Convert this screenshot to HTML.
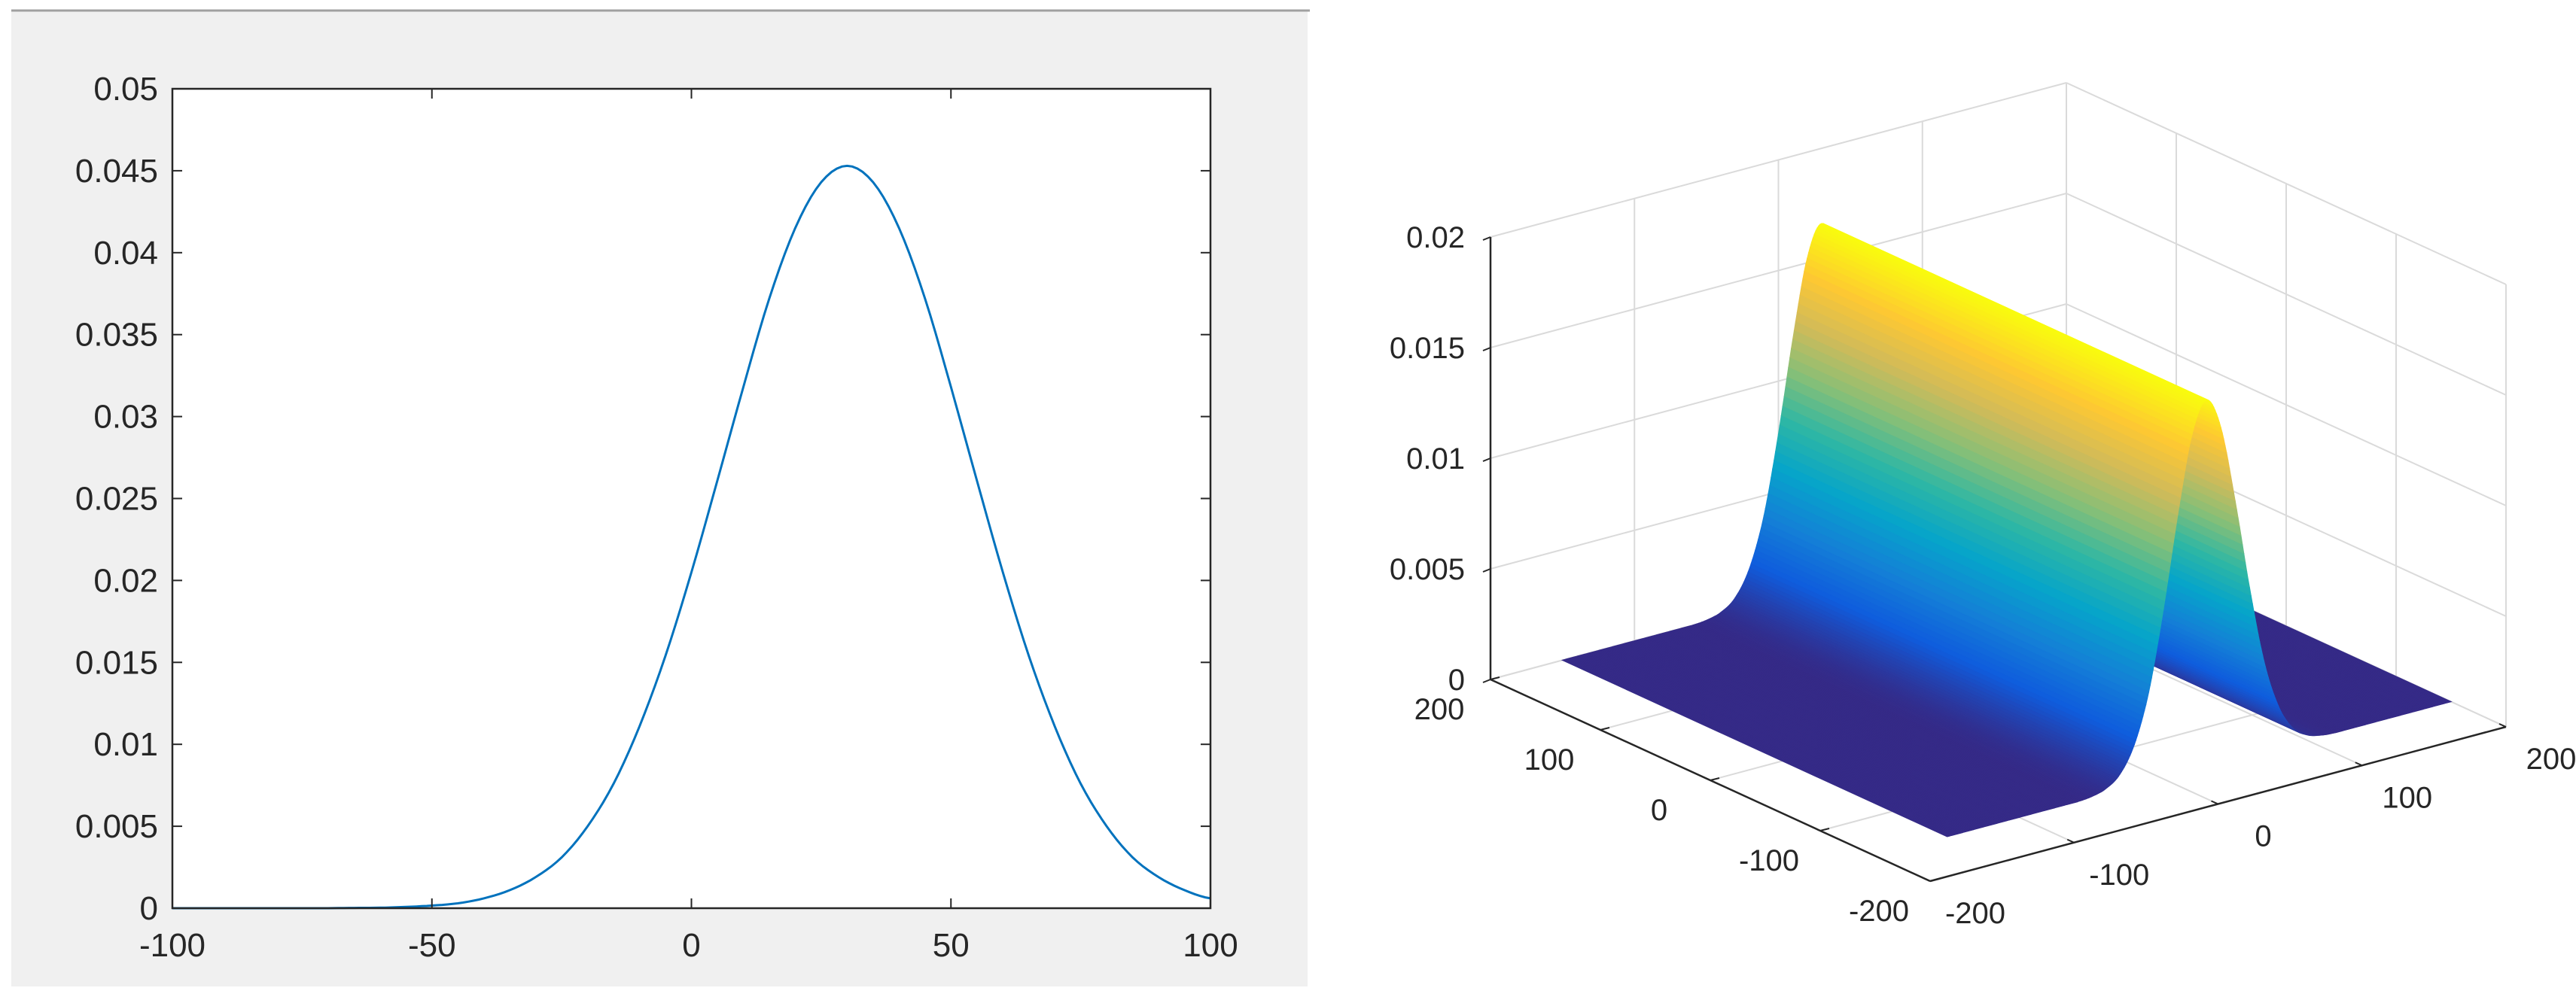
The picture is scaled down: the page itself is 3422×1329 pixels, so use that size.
<!DOCTYPE html>
<html><head><meta charset="utf-8">
<style>
html,body{margin:0;padding:0;background:#fff;}
svg{display:block;font-family:"Liberation Sans",sans-serif;}
</style></head>
<body>
<svg id="root" width="3422" height="1329" viewBox="0 0 3422 1329" xmlns="http://www.w3.org/2000/svg">
  <rect x="15" y="15" width="1722" height="1296" fill="#f0f0f0"/>
  <line x1="15" y1="14" x2="1740" y2="14" stroke="#a0a0a0" stroke-width="3"/>
  <g id="left"></g>
  <g id="right"></g>
</svg>
<script>
// ---------- Left chart data ----------
const lineX = [-100,-95,-90,-85,-80,-75,-70,-65,-60,-55,-50,-45,-40,-35,-30,-25,-20,-15,-10,-5,0,5,10,15,20,25,30,35,40,45,50,55,60,65,70,75,80,85,90,95,100];
const lineY = [0,0,0,0,0,0,0,0.00002,0.00003,0.00008,0.00016,0.0003,0.0006,0.0011,0.0019,0.0031,0.0050,0.0076,0.0111,0.0154,0.0205,0.0261,0.0318,0.0372,0.0415,0.0443,0.0453,0.0443,0.0415,0.0372,0.0318,0.0261,0.0205,0.0154,0.0111,0.0076,0.0050,0.0031,0.0019,0.0011,0.0006];
const lineXTicks = [-100,-50,0,50,100];
const lineYTicks = [0,0.005,0.01,0.015,0.02,0.025,0.03,0.035,0.04,0.045,0.05];
const lineYTickLabels = ["0","0.005","0.01","0.015","0.02","0.025","0.03","0.035","0.04","0.045","0.05"];

// ---------- Right chart data ----------
const ridgeX = [-150,-140,-130,-120,-110,-100,-90,-80,-70,-60,-50,-40,-30,-20,-10,0,10,20,30,40,50,60,70,80,90,100,110,120,130,140,150,160,170,180,190,200];
const ridgeZ = [0,0,0,0,0,0,0,0,0,0,0.00006,0.00024,0.00073,0.0019,0.0041,0.0076,0.0117,0.0152,0.0166,0.0152,0.0117,0.0076,0.0041,0.0019,0.00073,0.00024,0.00006,0,0,0,0,0,0,0,0,0];
const ridgeYRange = [-150,200];
const axisTicks3d = [-200,-100,0,100,200];
const zTicks = [0,0.005,0.01,0.015,0.02];
const zTickLabels = ["0","0.005","0.01","0.015","0.02"];

const NS="http://www.w3.org/2000/svg";
function mk(tag, attrs, parent){const e=document.createElementNS(NS,tag);for(const k in attrs)e.setAttribute(k,attrs[k]);parent.appendChild(e);return e;}
function catmull(xs, ys, step){
  const out=[];
  for(let i=0;i<xs.length-1;i++){
    const p0=ys[Math.max(0,i-1)],p1=ys[i],p2=ys[i+1],p3=ys[Math.min(ys.length-1,i+2)];
    const n=Math.max(1,Math.round((xs[i+1]-xs[i])/step));
    for(let k=0;k<n;k++){const t=k/n;
      const y=0.5*((2*p1)+(-p0+p2)*t+(2*p0-5*p1+4*p2-p3)*t*t+(-p0+3*p1-3*p2+p3)*t*t*t);
      out.push([xs[i]+(xs[i+1]-xs[i])*t, Math.max(0,y)]);}
  }
  out.push([xs[xs.length-1], ys[ys.length-1]]);
  return out;
}

// ---------- Left chart ----------
(function(){
  const g=document.getElementById('left');
  const L=229,R=1608,T=118,B=1207;
  const sx=v=>L+(v+100)/200*(R-L);
  const sy=v=>B-v/0.05*(B-T);
  const bg=mk('rect',{x:L,y:T,width:R-L,height:B-T,fill:'#fff'},g);
  
  
  const pts=catmull(lineX,lineY,1).map(p=>sx(p[0]).toFixed(1)+','+sy(p[1]).toFixed(1)).join(' ');
  const pl=mk('polyline',{points:pts,fill:'none',stroke:'#0072bd','stroke-width':3},g);
  
  
  lineYTicks.forEach((v,i)=>{
    const y=sy(v);
    mk('line',{x1:L,y1:y,x2:L+13,y2:y,stroke:'#262626','stroke-width':2},g);
    mk('line',{x1:R,y1:y,x2:R-13,y2:y,stroke:'#262626','stroke-width':2},g);
    const t=mk('text',{x:210,y:y+15,'text-anchor':'end','font-size':44,fill:'#262626'},g);
    t.textContent=lineYTickLabels[i];
    
    
  });
  lineXTicks.forEach(v=>{
    const x=sx(v);
    mk('line',{x1:x,y1:B,x2:x,y2:B-13,stroke:'#262626','stroke-width':2},g);
    mk('line',{x1:x,y1:T,x2:x,y2:T+13,stroke:'#262626','stroke-width':2},g);
    const t=mk('text',{x:x,y:1271,'text-anchor':'middle','font-size':44,fill:'#262626'},g);
    t.textContent=String(v);
    
    
  });
  const box=mk('rect',{x:L,y:T,width:R-L,height:B-T,fill:'none',stroke:'#262626','stroke-width':2.5},g);
  
  
})();

// ---------- Right chart (3D surface) ----------
(function(){
  const g=document.getElementById('right');
  const C=[2654.5,934.5], ex=[1.9125,-0.5125], ey=[-1.46,-0.67], ez=-29400;
  const P=(x,y,z)=>[C[0]+x*ex[0]+y*ey[0], C[1]+x*ex[1]+y*ey[1]+z*ez];
  const ZMAX=0.02;
  const grid='#dadada';
  const ln=(a,b,st,w,name)=>{const e=mk('line',{x1:a[0],y1:a[1],x2:b[0],y2:b[1],stroke:st,'stroke-width':w},g);return e;};
  // back wall y=200
  axisTicks3d.forEach(v=>{ln(P(v,200,0),P(v,200,ZMAX),grid,2,'grid-line');});
  zTicks.forEach(z=>{ln(P(-200,200,z),P(200,200,z),grid,2,'grid-line');});
  // back wall x=200
  axisTicks3d.forEach(v=>{ln(P(200,v,0),P(200,v,ZMAX),grid,2,'grid-line');});
  zTicks.forEach(z=>{ln(P(200,-200,z),P(200,200,z),grid,2,'grid-line');});
  // floor
  axisTicks3d.forEach(v=>{ln(P(v,-200,0),P(v,200,0),grid,2,'grid-line');ln(P(-200,v,0),P(200,v,0),grid,2,'grid-line');});

  // parula colormap
  const stops=['#352a87','#0f5cdd','#1481d6','#06a4ca','#2eb7a4','#87bf77','#d1bb59','#fec832','#f9fb0e'].map(h=>[parseInt(h.slice(1,3),16),parseInt(h.slice(3,5),16),parseInt(h.slice(5,7),16)]);
  const cmap=t=>{t=Math.max(0,Math.min(1,t))*(stops.length-1);const i=Math.min(stops.length-2,Math.floor(t)),f=t-i;const a=stops[i],b=stops[i+1];return 'rgb('+[0,1,2].map(k=>Math.round(a[k]+(b[k]-a[k])*f)).join(',')+')';};
  const zmax=Math.max(...ridgeZ);
  const prof=catmull(ridgeX,ridgeZ,1);
  const y0=ridgeYRange[0], y1=ridgeYRange[1];
  const surf=mk('g',{},g);
  
  
  for(let i=prof.length-2;i>=0;i--){
    const a=prof[i], b=prof[i+1];
    const q=[P(a[0],y0,a[1]),P(b[0],y0,b[1]),P(b[0],y1,b[1]),P(a[0],y1,a[1])];
    const col=cmap(((a[1]+b[1])/2)/zmax);
    const poly=mk('polygon',{points:q.map(p=>p[0].toFixed(1)+','+p[1].toFixed(1)).join(' '),fill:col,stroke:col,'stroke-width':1.2},surf);
    
    
  }
  // axes
  const ax='#262626';
  ln(P(-200,200,0),P(-200,200,ZMAX),ax,2.5,'z-axis-line');
  ln(P(-200,200,0),P(-200,-200,0),ax,2.5,'y-axis-line');
  ln(P(-200,-200,0),P(200,-200,0),ax,2.5,'x-axis-line');
  zTicks.forEach((z,i)=>{
    const p=P(-200,200,z);
    ln(p,[p[0]-10,p[1]+4],ax,2,'z-tick');
    const t=mk('text',{x:1946,y:p[1]+14,'text-anchor':'end','font-size':40,fill:'#262626'},g);
    t.textContent=zTickLabels[i];
    
    
  });
  axisTicks3d.forEach(v=>{
    const p=P(-200,v,0);
    ln(p,[p[0]+12,p[1]-3],ax,2,'y-tick');
    const t=mk('text',{x:p[0]-68,y:p[1]+53,'text-anchor':'middle','font-size':40,fill:'#262626'},g);
    t.textContent=String(v);
    
    
    const q=P(v,-200,0);
    ln(q,[q[0]-9,q[1]-4],ax,2,'x-tick');
    const u=mk('text',{x:q[0]+60,y:q[1]+56,'text-anchor':'middle','font-size':40,fill:'#262626'},g);
    u.textContent=String(v);
    
    
  });
})();
</script>
</body></html>
